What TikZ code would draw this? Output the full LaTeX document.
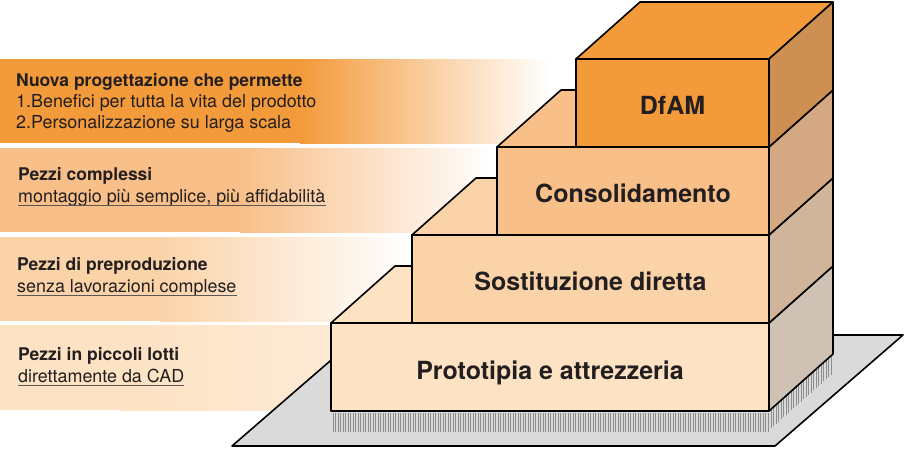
\documentclass[tikz,border=0pt]{standalone}
\usepackage{fontspec}
\setmainfont{TeX Gyre Heros}
\usepackage{tikz}

\definecolor{ink}{HTML}{231F20}
\definecolor{dfam}{HTML}{F39A3B}
\definecolor{dfamside}{HTML}{CD8F52}
\definecolor{cons}{HTML}{F8BF88}
\definecolor{consside}{HTML}{D4A882}
\definecolor{sost}{HTML}{FBD3A9}
\definecolor{sostside}{HTML}{D0B59A}
\definecolor{prot}{HTML}{FDE2C3}
\definecolor{protside}{HTML}{CFC2B4}
\definecolor{floor}{HTML}{DADADA}

\begin{document}
\begin{tikzpicture}[x=1pt, y=-1pt,
  edge/.style={draw=black, line width=1.6pt, line join=round},
  hatch/.style={draw=black!45, line width=0.6pt},
  uline/.style={draw=ink!75, line width=0.9pt},
  title/.style={anchor=base west, inner sep=0pt, text=ink,
    font=\fontsize{17.5}{20}\selectfont\bfseries},
  sub/.style={anchor=base west, inner sep=0pt, text=ink,
    font=\fontsize{17.9}{20}\selectfont},
  boxtext/.style={anchor=base, inner sep=0pt, text=ink,
    font=\fontsize{25}{30}\selectfont\bfseries}]

  \newcommand\XR{769};
  \newcommand\DX{64};
  \newcommand\DY{57};

  \useasboundingbox (0,0) rectangle (908,451);

  % bands on the left
  \fill[dfam] (0,59) rectangle (300,143);
  \shade[left color=dfam, right color=white] (300,59) rectangle (550,143);
  \fill[cons] (0,148) rectangle (240,232);
  \shade[left color=cons, right color=white] (240,148) rectangle (492,232);
  \fill[sost] (0,237) rectangle (160,321);
  \shade[left color=sost, right color=white] (160,237) rectangle (412,321);
  \fill[prot] (0,325) rectangle (120,410);
  \shade[left color=prot, right color=prot!70!white] (120,325) rectangle (332,410);

  \node[title] (t1) at (16,86) {Nuova progettazione che permette};
  \node[sub] (s1a) at (16,107) {1.Benefici per tutta la vita del prodotto};
  \node[sub] (s1b) at (16,128) {2.Personalizzazione su larga scala};

  \node[title] (t2) at (18,180) {Pezzi complessi};
  \node[sub] (s2) at (18,202) {montaggio più semplice, più affidabilità};
  \draw[uline] ([yshift=-3pt]s2.base west) -- ([yshift=-3pt]s2.base east);

  \node[title] (t3) at (17,270) {Pezzi di preproduzione};
  \node[sub] (s3) at (17,292) {senza lavorazioni complese};
  \draw[uline] ([yshift=-3pt]s3.base west) -- ([yshift=-3pt]s3.base east);

  \node[title] (t4) at (18,360) {Pezzi in piccoli lotti};
  \node[sub] (s4) at (18,382) {direttamente da CAD};
  \draw[uline] ([yshift=-3pt]s4.base west) -- ([yshift=-3pt]s4.base east);

  % floor
  \draw[edge, fill=floor] (232,446) -- (775,446) -- (903,335) -- (360,335) -- cycle;
  \foreach \x in {333,335.5,...,768}
    \draw[hatch] (\x,413) -- (\x,432);
  \foreach \x in {771,773.5,...,832}
    \draw[hatch] (\x,{411-\DY*(\x-\XR)/\DX}) -- (\x,{430-\DY*(\x-\XR)/\DX});

  % Prototipia
  \draw[edge, fill=prot] (331,323) rectangle (\XR,411);
  \draw[edge, fill=prot] (331,323) -- (331+\DX,323-\DY) -- (\XR+\DX,323-\DY) -- (\XR,323) -- cycle;
  \draw[edge, fill=protside] (\XR,323) -- (\XR+\DX,323-\DY) -- (\XR+\DX,411-\DY) -- (\XR,411) -- cycle;

  % Sostituzione
  \draw[edge, fill=sost] (412,235) rectangle (\XR,323);
  \draw[edge, fill=sost] (412,235) -- (412+\DX,235-\DY) -- (\XR+\DX,235-\DY) -- (\XR,235) -- cycle;
  \draw[edge, fill=sostside] (\XR,235) -- (\XR+\DX,235-\DY) -- (\XR+\DX,323-\DY) -- (\XR,323) -- cycle;

  % Consolidamento
  \draw[edge, fill=cons] (497,147) rectangle (\XR,235);
  \draw[edge, fill=cons] (497,147) -- (497+\DX,147-\DY) -- (\XR+\DX,147-\DY) -- (\XR,147) -- cycle;
  \draw[edge, fill=consside] (\XR,147) -- (\XR+\DX,147-\DY) -- (\XR+\DX,235-\DY) -- (\XR,235) -- cycle;

  % DfAM
  \draw[edge, fill=dfam] (576,59) rectangle (\XR,147);
  \draw[edge, fill=dfam] (576,59) -- (576+\DX,59-\DY) -- (\XR+\DX,59-\DY) -- (\XR,59) -- cycle;
  \draw[edge, fill=dfamside] (\XR,59) -- (\XR+\DX,59-\DY) -- (\XR+\DX,147-\DY) -- (\XR,147) -- cycle;

  \node[boxtext] (b1) at (672.5,114.5) {DfAM};
  \node[boxtext] (b2) at (633,202.5) {Consolidamento};
  \node[boxtext] (b3) at (590.5,290.5) {Sostituzione diretta};
  \node[boxtext] (b4) at (550,379) {Prototipia e attrezzeria};

\end{tikzpicture}
\end{document}
